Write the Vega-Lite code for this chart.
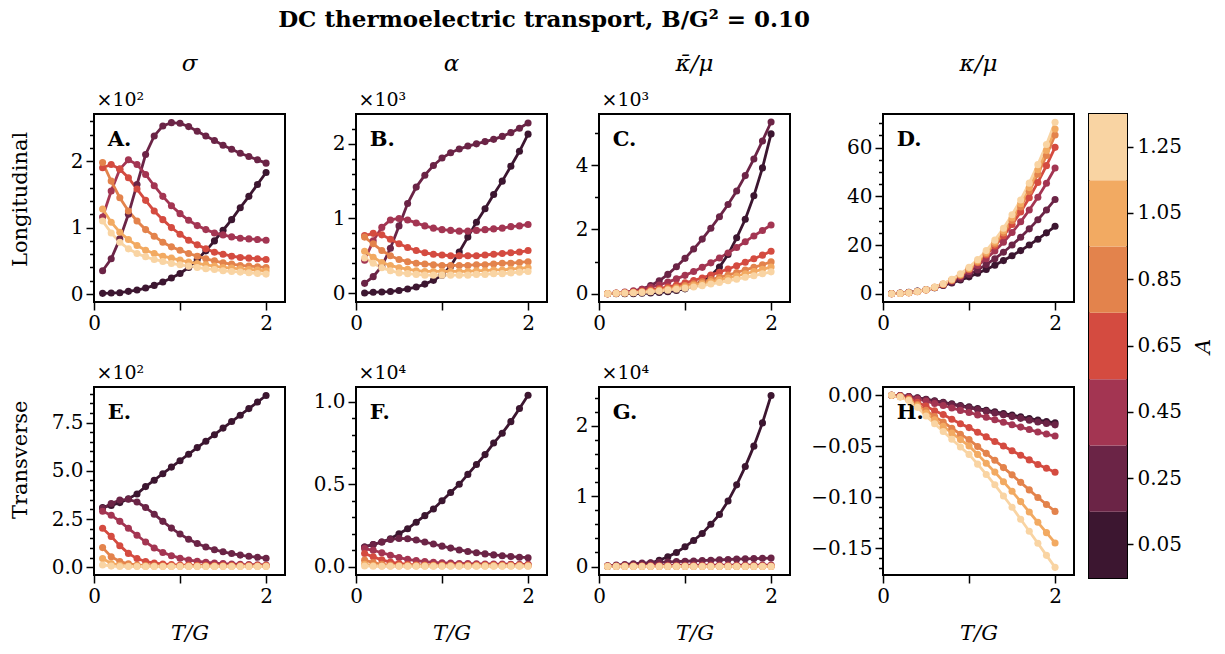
{
"$schema": "https://vega.github.io/schema/vega-lite/v6.json",
"padding": {"left": 10, "top": 9, "right": 5, "bottom": 5},
"title": {"text": "DC thermoelectric transport,  B/G² = 0.10", "font": "DejaVu Serif", "fontSize": 23, "fontWeight": "bold", "anchor": "middle", "dx": -68, "offset": 20, "color": "black"},
"datasets": {
"A": [
{"a":0.05,"t":0.1,"v":0.01},{"a":0.05,"t":0.2,"v":0.015},{"a":0.05,"t":0.3,"v":0.02},{"a":0.05,"t":0.4,"v":0.04},{"a":0.05,"t":0.5,"v":0.06},{"a":0.05,"t":0.6,"v":0.09},{"a":0.05,"t":0.7,"v":0.13},{"a":0.05,"t":0.8,"v":0.18},{"a":0.05,"t":0.9,"v":0.24},{"a":0.05,"t":1,"v":0.31},{"a":0.05,"t":1.1,"v":0.4},{"a":0.05,"t":1.2,"v":0.52},{"a":0.05,"t":1.3,"v":0.65},{"a":0.05,"t":1.4,"v":0.8},{"a":0.05,"t":1.5,"v":0.96},{"a":0.05,"t":1.6,"v":1.12},{"a":0.05,"t":1.7,"v":1.3},{"a":0.05,"t":1.8,"v":1.47},{"a":0.05,"t":1.9,"v":1.65},{"a":0.05,"t":2,"v":1.83},
{"a":0.25,"t":0.1,"v":0.35},{"a":0.25,"t":0.2,"v":0.53},{"a":0.25,"t":0.3,"v":0.83},{"a":0.25,"t":0.4,"v":1.2},{"a":0.25,"t":0.5,"v":1.65},{"a":0.25,"t":0.6,"v":2.1},{"a":0.25,"t":0.7,"v":2.38},{"a":0.25,"t":0.8,"v":2.53},{"a":0.25,"t":0.9,"v":2.58},{"a":0.25,"t":1,"v":2.57},{"a":0.25,"t":1.1,"v":2.52},{"a":0.25,"t":1.2,"v":2.45},{"a":0.25,"t":1.3,"v":2.38},{"a":0.25,"t":1.4,"v":2.31},{"a":0.25,"t":1.5,"v":2.24},{"a":0.25,"t":1.6,"v":2.18},{"a":0.25,"t":1.7,"v":2.12},{"a":0.25,"t":1.8,"v":2.07},{"a":0.25,"t":1.9,"v":2.02},{"a":0.25,"t":2,"v":1.97},
{"a":0.45,"t":0.1,"v":1.16},{"a":0.45,"t":0.2,"v":1.55},{"a":0.45,"t":0.3,"v":1.88},{"a":0.45,"t":0.4,"v":2.02},{"a":0.45,"t":0.5,"v":1.95},{"a":0.45,"t":0.6,"v":1.8},{"a":0.45,"t":0.7,"v":1.63},{"a":0.45,"t":0.8,"v":1.47},{"a":0.45,"t":0.9,"v":1.33},{"a":0.45,"t":1,"v":1.21},{"a":0.45,"t":1.1,"v":1.11},{"a":0.45,"t":1.2,"v":1.03},{"a":0.45,"t":1.3,"v":0.97},{"a":0.45,"t":1.4,"v":0.92},{"a":0.45,"t":1.5,"v":0.89},{"a":0.45,"t":1.6,"v":0.86},{"a":0.45,"t":1.7,"v":0.84},{"a":0.45,"t":1.8,"v":0.83},{"a":0.45,"t":1.9,"v":0.82},{"a":0.45,"t":2,"v":0.81},
{"a":0.65,"t":0.1,"v":1.9},{"a":0.65,"t":0.2,"v":1.95},{"a":0.65,"t":0.3,"v":1.88},{"a":0.65,"t":0.4,"v":1.75},{"a":0.65,"t":0.5,"v":1.58},{"a":0.65,"t":0.6,"v":1.41},{"a":0.65,"t":0.7,"v":1.25},{"a":0.65,"t":0.8,"v":1.12},{"a":0.65,"t":0.9,"v":1.0},{"a":0.65,"t":1,"v":0.9},{"a":0.65,"t":1.1,"v":0.81},{"a":0.65,"t":1.2,"v":0.74},{"a":0.65,"t":1.3,"v":0.68},{"a":0.65,"t":1.4,"v":0.63},{"a":0.65,"t":1.5,"v":0.6},{"a":0.65,"t":1.6,"v":0.57},{"a":0.65,"t":1.7,"v":0.55},{"a":0.65,"t":1.8,"v":0.54},{"a":0.65,"t":1.9,"v":0.53},{"a":0.65,"t":2,"v":0.52},
{"a":0.85,"t":0.1,"v":1.98},{"a":0.85,"t":0.2,"v":1.7},{"a":0.85,"t":0.3,"v":1.45},{"a":0.85,"t":0.4,"v":1.25},{"a":0.85,"t":0.5,"v":1.1},{"a":0.85,"t":0.6,"v":0.97},{"a":0.85,"t":0.7,"v":0.87},{"a":0.85,"t":0.8,"v":0.78},{"a":0.85,"t":0.9,"v":0.71},{"a":0.85,"t":1,"v":0.66},{"a":0.85,"t":1.1,"v":0.61},{"a":0.85,"t":1.2,"v":0.57},{"a":0.85,"t":1.3,"v":0.53},{"a":0.85,"t":1.4,"v":0.5},{"a":0.85,"t":1.5,"v":0.47},{"a":0.85,"t":1.6,"v":0.45},{"a":0.85,"t":1.7,"v":0.43},{"a":0.85,"t":1.8,"v":0.42},{"a":0.85,"t":1.9,"v":0.41},{"a":0.85,"t":2,"v":0.4},
{"a":1.05,"t":0.1,"v":1.28},{"a":1.05,"t":0.2,"v":1.08},{"a":1.05,"t":0.3,"v":0.93},{"a":1.05,"t":0.4,"v":0.82},{"a":1.05,"t":0.5,"v":0.73},{"a":1.05,"t":0.6,"v":0.66},{"a":1.05,"t":0.7,"v":0.61},{"a":1.05,"t":0.8,"v":0.57},{"a":1.05,"t":0.9,"v":0.54},{"a":1.05,"t":1,"v":0.51},{"a":1.05,"t":1.1,"v":0.48},{"a":1.05,"t":1.2,"v":0.46},{"a":1.05,"t":1.3,"v":0.44},{"a":1.05,"t":1.4,"v":0.42},{"a":1.05,"t":1.5,"v":0.4},{"a":1.05,"t":1.6,"v":0.39},{"a":1.05,"t":1.7,"v":0.38},{"a":1.05,"t":1.8,"v":0.37},{"a":1.05,"t":1.9,"v":0.36},{"a":1.05,"t":2,"v":0.35},
{"a":1.25,"t":0.1,"v":1.1},{"a":1.25,"t":0.2,"v":0.92},{"a":1.25,"t":0.3,"v":0.78},{"a":1.25,"t":0.4,"v":0.68},{"a":1.25,"t":0.5,"v":0.61},{"a":1.25,"t":0.6,"v":0.56},{"a":1.25,"t":0.7,"v":0.52},{"a":1.25,"t":0.8,"v":0.49},{"a":1.25,"t":0.9,"v":0.46},{"a":1.25,"t":1,"v":0.44},{"a":1.25,"t":1.1,"v":0.42},{"a":1.25,"t":1.2,"v":0.4},{"a":1.25,"t":1.3,"v":0.38},{"a":1.25,"t":1.4,"v":0.37},{"a":1.25,"t":1.5,"v":0.35},{"a":1.25,"t":1.6,"v":0.34},{"a":1.25,"t":1.7,"v":0.33},{"a":1.25,"t":1.8,"v":0.32},{"a":1.25,"t":1.9,"v":0.31},{"a":1.25,"t":2,"v":0.3}
],
"B": [
{"a":0.05,"t":0.1,"v":0.0},{"a":0.05,"t":0.2,"v":0.01},{"a":0.05,"t":0.3,"v":0.015},{"a":0.05,"t":0.4,"v":0.02},{"a":0.05,"t":0.5,"v":0.035},{"a":0.05,"t":0.6,"v":0.055},{"a":0.05,"t":0.7,"v":0.08},{"a":0.05,"t":0.8,"v":0.12},{"a":0.05,"t":0.9,"v":0.17},{"a":0.05,"t":1,"v":0.24},{"a":0.05,"t":1.1,"v":0.36},{"a":0.05,"t":1.2,"v":0.55},{"a":0.05,"t":1.3,"v":0.75},{"a":0.05,"t":1.4,"v":0.95},{"a":0.05,"t":1.5,"v":1.13},{"a":0.05,"t":1.6,"v":1.32},{"a":0.05,"t":1.7,"v":1.5},{"a":0.05,"t":1.8,"v":1.7},{"a":0.05,"t":1.9,"v":1.9},{"a":0.05,"t":2,"v":2.13},
{"a":0.25,"t":0.1,"v":0.13},{"a":0.25,"t":0.2,"v":0.22},{"a":0.25,"t":0.3,"v":0.36},{"a":0.25,"t":0.4,"v":0.6},{"a":0.25,"t":0.5,"v":0.9},{"a":0.25,"t":0.6,"v":1.2},{"a":0.25,"t":0.7,"v":1.42},{"a":0.25,"t":0.8,"v":1.58},{"a":0.25,"t":0.9,"v":1.71},{"a":0.25,"t":1,"v":1.81},{"a":0.25,"t":1.1,"v":1.88},{"a":0.25,"t":1.2,"v":1.93},{"a":0.25,"t":1.3,"v":1.97},{"a":0.25,"t":1.4,"v":2.0},{"a":0.25,"t":1.5,"v":2.03},{"a":0.25,"t":1.6,"v":2.06},{"a":0.25,"t":1.7,"v":2.1},{"a":0.25,"t":1.8,"v":2.15},{"a":0.25,"t":1.9,"v":2.21},{"a":0.25,"t":2,"v":2.28},
{"a":0.45,"t":0.1,"v":0.44},{"a":0.45,"t":0.2,"v":0.7},{"a":0.45,"t":0.3,"v":0.88},{"a":0.45,"t":0.4,"v":0.98},{"a":0.45,"t":0.5,"v":1.0},{"a":0.45,"t":0.6,"v":0.98},{"a":0.45,"t":0.7,"v":0.94},{"a":0.45,"t":0.8,"v":0.9},{"a":0.45,"t":0.9,"v":0.87},{"a":0.45,"t":1,"v":0.85},{"a":0.45,"t":1.1,"v":0.84},{"a":0.45,"t":1.2,"v":0.83},{"a":0.45,"t":1.3,"v":0.83},{"a":0.45,"t":1.4,"v":0.84},{"a":0.45,"t":1.5,"v":0.85},{"a":0.45,"t":1.6,"v":0.86},{"a":0.45,"t":1.7,"v":0.87},{"a":0.45,"t":1.8,"v":0.89},{"a":0.45,"t":1.9,"v":0.9},{"a":0.45,"t":2,"v":0.92},
{"a":0.65,"t":0.1,"v":0.77},{"a":0.65,"t":0.2,"v":0.8},{"a":0.65,"t":0.3,"v":0.78},{"a":0.65,"t":0.4,"v":0.72},{"a":0.65,"t":0.5,"v":0.66},{"a":0.65,"t":0.6,"v":0.61},{"a":0.65,"t":0.7,"v":0.57},{"a":0.65,"t":0.8,"v":0.54},{"a":0.65,"t":0.9,"v":0.52},{"a":0.65,"t":1,"v":0.51},{"a":0.65,"t":1.1,"v":0.5},{"a":0.65,"t":1.2,"v":0.5},{"a":0.65,"t":1.3,"v":0.5},{"a":0.65,"t":1.4,"v":0.5},{"a":0.65,"t":1.5,"v":0.51},{"a":0.65,"t":1.6,"v":0.52},{"a":0.65,"t":1.7,"v":0.53},{"a":0.65,"t":1.8,"v":0.54},{"a":0.65,"t":1.9,"v":0.55},{"a":0.65,"t":2,"v":0.57},
{"a":0.85,"t":0.1,"v":0.75},{"a":0.85,"t":0.2,"v":0.66},{"a":0.85,"t":0.3,"v":0.57},{"a":0.85,"t":0.4,"v":0.5},{"a":0.85,"t":0.5,"v":0.45},{"a":0.85,"t":0.6,"v":0.42},{"a":0.85,"t":0.7,"v":0.4},{"a":0.85,"t":0.8,"v":0.39},{"a":0.85,"t":0.9,"v":0.38},{"a":0.85,"t":1,"v":0.37},{"a":0.85,"t":1.1,"v":0.37},{"a":0.85,"t":1.2,"v":0.37},{"a":0.85,"t":1.3,"v":0.37},{"a":0.85,"t":1.4,"v":0.38},{"a":0.85,"t":1.5,"v":0.38},{"a":0.85,"t":1.6,"v":0.39},{"a":0.85,"t":1.7,"v":0.4},{"a":0.85,"t":1.8,"v":0.4},{"a":0.85,"t":1.9,"v":0.41},{"a":0.85,"t":2,"v":0.42},
{"a":1.05,"t":0.1,"v":0.56},{"a":1.05,"t":0.2,"v":0.48},{"a":1.05,"t":0.3,"v":0.41},{"a":1.05,"t":0.4,"v":0.37},{"a":1.05,"t":0.5,"v":0.34},{"a":1.05,"t":0.6,"v":0.32},{"a":1.05,"t":0.7,"v":0.3},{"a":1.05,"t":0.8,"v":0.29},{"a":1.05,"t":0.9,"v":0.29},{"a":1.05,"t":1,"v":0.29},{"a":1.05,"t":1.1,"v":0.29},{"a":1.05,"t":1.2,"v":0.29},{"a":1.05,"t":1.3,"v":0.29},{"a":1.05,"t":1.4,"v":0.3},{"a":1.05,"t":1.5,"v":0.3},{"a":1.05,"t":1.6,"v":0.31},{"a":1.05,"t":1.7,"v":0.31},{"a":1.05,"t":1.8,"v":0.32},{"a":1.05,"t":1.9,"v":0.33},{"a":1.05,"t":2,"v":0.34},
{"a":1.25,"t":0.1,"v":0.47},{"a":1.25,"t":0.2,"v":0.4},{"a":1.25,"t":0.3,"v":0.34},{"a":1.25,"t":0.4,"v":0.3},{"a":1.25,"t":0.5,"v":0.27},{"a":1.25,"t":0.6,"v":0.26},{"a":1.25,"t":0.7,"v":0.25},{"a":1.25,"t":0.8,"v":0.24},{"a":1.25,"t":0.9,"v":0.24},{"a":1.25,"t":1,"v":0.24},{"a":1.25,"t":1.1,"v":0.24},{"a":1.25,"t":1.2,"v":0.24},{"a":1.25,"t":1.3,"v":0.24},{"a":1.25,"t":1.4,"v":0.25},{"a":1.25,"t":1.5,"v":0.25},{"a":1.25,"t":1.6,"v":0.26},{"a":1.25,"t":1.7,"v":0.26},{"a":1.25,"t":1.8,"v":0.27},{"a":1.25,"t":1.9,"v":0.28},{"a":1.25,"t":2,"v":0.29}
],
"C": [
{"a":0.05,"t":0.1,"v":0},{"a":0.05,"t":0.2,"v":0},{"a":0.05,"t":0.3,"v":0},{"a":0.05,"t":0.4,"v":0},{"a":0.05,"t":0.5,"v":0.01},{"a":0.05,"t":0.6,"v":0.02},{"a":0.05,"t":0.7,"v":0.04},{"a":0.05,"t":0.8,"v":0.06},{"a":0.05,"t":0.9,"v":0.1},{"a":0.05,"t":1,"v":0.15},{"a":0.05,"t":1.1,"v":0.24},{"a":0.05,"t":1.2,"v":0.38},{"a":0.05,"t":1.3,"v":0.56},{"a":0.05,"t":1.4,"v":0.83},{"a":0.05,"t":1.5,"v":1.22},{"a":0.05,"t":1.6,"v":1.74},{"a":0.05,"t":1.7,"v":2.32},{"a":0.05,"t":1.8,"v":3.05},{"a":0.05,"t":1.9,"v":3.92},{"a":0.05,"t":2,"v":4.98},
{"a":0.25,"t":0.1,"v":0.0},{"a":0.25,"t":0.2,"v":0.01},{"a":0.25,"t":0.3,"v":0.03},{"a":0.25,"t":0.4,"v":0.07},{"a":0.25,"t":0.5,"v":0.14},{"a":0.25,"t":0.6,"v":0.25},{"a":0.25,"t":0.7,"v":0.4},{"a":0.25,"t":0.8,"v":0.6},{"a":0.25,"t":0.9,"v":0.84},{"a":0.25,"t":1,"v":1.1},{"a":0.25,"t":1.1,"v":1.39},{"a":0.25,"t":1.2,"v":1.7},{"a":0.25,"t":1.3,"v":2.04},{"a":0.25,"t":1.4,"v":2.4},{"a":0.25,"t":1.5,"v":2.78},{"a":0.25,"t":1.6,"v":3.2},{"a":0.25,"t":1.7,"v":3.68},{"a":0.25,"t":1.8,"v":4.2},{"a":0.25,"t":1.9,"v":4.76},{"a":0.25,"t":2,"v":5.35},
{"a":0.45,"t":0.1,"v":0.0},{"a":0.45,"t":0.2,"v":0.02},{"a":0.45,"t":0.3,"v":0.05},{"a":0.45,"t":0.4,"v":0.09},{"a":0.45,"t":0.5,"v":0.14},{"a":0.45,"t":0.6,"v":0.2},{"a":0.45,"t":0.7,"v":0.27},{"a":0.45,"t":0.8,"v":0.36},{"a":0.45,"t":0.9,"v":0.46},{"a":0.45,"t":1,"v":0.57},{"a":0.45,"t":1.1,"v":0.69},{"a":0.45,"t":1.2,"v":0.82},{"a":0.45,"t":1.3,"v":0.96},{"a":0.45,"t":1.4,"v":1.11},{"a":0.45,"t":1.5,"v":1.27},{"a":0.45,"t":1.6,"v":1.44},{"a":0.45,"t":1.7,"v":1.62},{"a":0.45,"t":1.8,"v":1.8},{"a":0.45,"t":1.9,"v":1.97},{"a":0.45,"t":2,"v":2.14},
{"a":0.65,"t":0.1,"v":0.0},{"a":0.65,"t":0.2,"v":0.01},{"a":0.65,"t":0.3,"v":0.03},{"a":0.65,"t":0.4,"v":0.05},{"a":0.65,"t":0.5,"v":0.08},{"a":0.65,"t":0.6,"v":0.12},{"a":0.65,"t":0.7,"v":0.16},{"a":0.65,"t":0.8,"v":0.21},{"a":0.65,"t":0.9,"v":0.27},{"a":0.65,"t":1,"v":0.34},{"a":0.65,"t":1.1,"v":0.41},{"a":0.65,"t":1.2,"v":0.49},{"a":0.65,"t":1.3,"v":0.58},{"a":0.65,"t":1.4,"v":0.67},{"a":0.65,"t":1.5,"v":0.77},{"a":0.65,"t":1.6,"v":0.87},{"a":0.65,"t":1.7,"v":0.98},{"a":0.65,"t":1.8,"v":1.09},{"a":0.65,"t":1.9,"v":1.2},{"a":0.65,"t":2,"v":1.32},
{"a":0.85,"t":0.1,"v":0.0},{"a":0.85,"t":0.2,"v":0.01},{"a":0.85,"t":0.3,"v":0.02},{"a":0.85,"t":0.4,"v":0.04},{"a":0.85,"t":0.5,"v":0.06},{"a":0.85,"t":0.6,"v":0.09},{"a":0.85,"t":0.7,"v":0.12},{"a":0.85,"t":0.8,"v":0.16},{"a":0.85,"t":0.9,"v":0.2},{"a":0.85,"t":1,"v":0.25},{"a":0.85,"t":1.1,"v":0.31},{"a":0.85,"t":1.2,"v":0.37},{"a":0.85,"t":1.3,"v":0.44},{"a":0.85,"t":1.4,"v":0.51},{"a":0.85,"t":1.5,"v":0.58},{"a":0.85,"t":1.6,"v":0.66},{"a":0.85,"t":1.7,"v":0.74},{"a":0.85,"t":1.8,"v":0.82},{"a":0.85,"t":1.9,"v":0.9},{"a":0.85,"t":2,"v":0.99},
{"a":1.05,"t":0.1,"v":0.0},{"a":1.05,"t":0.2,"v":0.01},{"a":1.05,"t":0.3,"v":0.02},{"a":1.05,"t":0.4,"v":0.03},{"a":1.05,"t":0.5,"v":0.05},{"a":1.05,"t":0.6,"v":0.07},{"a":1.05,"t":0.7,"v":0.1},{"a":1.05,"t":0.8,"v":0.13},{"a":1.05,"t":0.9,"v":0.17},{"a":1.05,"t":1,"v":0.21},{"a":1.05,"t":1.1,"v":0.26},{"a":1.05,"t":1.2,"v":0.31},{"a":1.05,"t":1.3,"v":0.37},{"a":1.05,"t":1.4,"v":0.43},{"a":1.05,"t":1.5,"v":0.49},{"a":1.05,"t":1.6,"v":0.55},{"a":1.05,"t":1.7,"v":0.62},{"a":1.05,"t":1.8,"v":0.69},{"a":1.05,"t":1.9,"v":0.76},{"a":1.05,"t":2,"v":0.83},
{"a":1.25,"t":0.1,"v":0.0},{"a":1.25,"t":0.2,"v":0.01},{"a":1.25,"t":0.3,"v":0.02},{"a":1.25,"t":0.4,"v":0.03},{"a":1.25,"t":0.5,"v":0.04},{"a":1.25,"t":0.6,"v":0.06},{"a":1.25,"t":0.7,"v":0.08},{"a":1.25,"t":0.8,"v":0.11},{"a":1.25,"t":0.9,"v":0.14},{"a":1.25,"t":1,"v":0.17},{"a":1.25,"t":1.1,"v":0.21},{"a":1.25,"t":1.2,"v":0.25},{"a":1.25,"t":1.3,"v":0.3},{"a":1.25,"t":1.4,"v":0.35},{"a":1.25,"t":1.5,"v":0.4},{"a":1.25,"t":1.6,"v":0.45},{"a":1.25,"t":1.7,"v":0.51},{"a":1.25,"t":1.8,"v":0.56},{"a":1.25,"t":1.9,"v":0.62},{"a":1.25,"t":2,"v":0.68}
],
"D": [
{"a":0.05,"t":0.1,"v":0.07},{"a":0.05,"t":0.2,"v":0.28},{"a":0.05,"t":0.3,"v":0.62},{"a":0.05,"t":0.4,"v":1.11},{"a":0.05,"t":0.5,"v":1.73},{"a":0.05,"t":0.6,"v":2.49},{"a":0.05,"t":0.7,"v":3.4},{"a":0.05,"t":0.8,"v":4.43},{"a":0.05,"t":0.9,"v":5.61},{"a":0.05,"t":1,"v":6.93},{"a":0.05,"t":1.1,"v":8.38},{"a":0.05,"t":1.2,"v":9.98},{"a":0.05,"t":1.3,"v":11.7},{"a":0.05,"t":1.4,"v":13.6},{"a":0.05,"t":1.5,"v":15.6},{"a":0.05,"t":1.6,"v":17.7},{"a":0.05,"t":1.7,"v":20.0},{"a":0.05,"t":1.8,"v":22.4},{"a":0.05,"t":1.9,"v":25.0},{"a":0.05,"t":2,"v":27.7},
{"a":0.25,"t":0.1,"v":0.04},{"a":0.25,"t":0.2,"v":0.19},{"a":0.25,"t":0.3,"v":0.49},{"a":0.25,"t":0.4,"v":0.96},{"a":0.25,"t":0.5,"v":1.6},{"a":0.25,"t":0.6,"v":2.43},{"a":0.25,"t":0.7,"v":3.46},{"a":0.25,"t":0.8,"v":4.71},{"a":0.25,"t":0.9,"v":6.17},{"a":0.25,"t":1,"v":7.86},{"a":0.25,"t":1.1,"v":9.79},{"a":0.25,"t":1.2,"v":11.96},{"a":0.25,"t":1.3,"v":14.37},{"a":0.25,"t":1.4,"v":17.04},{"a":0.25,"t":1.5,"v":19.98},{"a":0.25,"t":1.6,"v":23.17},{"a":0.25,"t":1.7,"v":26.63},{"a":0.25,"t":1.8,"v":30.38},{"a":0.25,"t":1.9,"v":34.4},{"a":0.25,"t":2,"v":38.7},
{"a":0.45,"t":0.1,"v":0.03},{"a":0.45,"t":0.2,"v":0.16},{"a":0.45,"t":0.3,"v":0.45},{"a":0.45,"t":0.4,"v":0.92},{"a":0.45,"t":0.5,"v":1.61},{"a":0.45,"t":0.6,"v":2.54},{"a":0.45,"t":0.7,"v":3.74},{"a":0.45,"t":0.8,"v":5.22},{"a":0.45,"t":0.9,"v":7.01},{"a":0.45,"t":1,"v":9.12},{"a":0.45,"t":1.1,"v":11.57},{"a":0.45,"t":1.2,"v":14.38},{"a":0.45,"t":1.3,"v":17.57},{"a":0.45,"t":1.4,"v":21.15},{"a":0.45,"t":1.5,"v":25.13},{"a":0.45,"t":1.6,"v":29.53},{"a":0.45,"t":1.7,"v":34.36},{"a":0.45,"t":1.8,"v":39.64},{"a":0.45,"t":1.9,"v":45.38},{"a":0.45,"t":2,"v":51.6},
{"a":0.65,"t":0.1,"v":0.02},{"a":0.65,"t":0.2,"v":0.15},{"a":0.65,"t":0.3,"v":0.43},{"a":0.65,"t":0.4,"v":0.91},{"a":0.65,"t":0.5,"v":1.64},{"a":0.65,"t":0.6,"v":2.63},{"a":0.65,"t":0.7,"v":3.92},{"a":0.65,"t":0.8,"v":5.55},{"a":0.65,"t":0.9,"v":7.54},{"a":0.65,"t":1,"v":9.91},{"a":0.65,"t":1.1,"v":12.7},{"a":0.65,"t":1.2,"v":15.9},{"a":0.65,"t":1.3,"v":19.6},{"a":0.65,"t":1.4,"v":23.8},{"a":0.65,"t":1.5,"v":28.4},{"a":0.65,"t":1.6,"v":33.6},{"a":0.65,"t":1.7,"v":39.4},{"a":0.65,"t":1.8,"v":45.7},{"a":0.65,"t":1.9,"v":52.6},{"a":0.65,"t":2,"v":60.1},
{"a":0.85,"t":0.1,"v":0.02},{"a":0.85,"t":0.2,"v":0.13},{"a":0.85,"t":0.3,"v":0.39},{"a":0.85,"t":0.4,"v":0.84},{"a":0.85,"t":0.5,"v":1.54},{"a":0.85,"t":0.6,"v":2.53},{"a":0.85,"t":0.7,"v":3.82},{"a":0.85,"t":0.8,"v":5.49},{"a":0.85,"t":0.9,"v":7.55},{"a":0.85,"t":1,"v":10.03},{"a":0.85,"t":1.1,"v":12.96},{"a":0.85,"t":1.2,"v":16.39},{"a":0.85,"t":1.3,"v":20.37},{"a":0.85,"t":1.4,"v":24.91},{"a":0.85,"t":1.5,"v":30.0},{"a":0.85,"t":1.6,"v":35.65},{"a":0.85,"t":1.7,"v":42.04},{"a":0.85,"t":1.8,"v":49.08},{"a":0.85,"t":1.9,"v":56.76},{"a":0.85,"t":2,"v":65.2},
{"a":1.05,"t":0.1,"v":0.02},{"a":1.05,"t":0.2,"v":0.13},{"a":1.05,"t":0.3,"v":0.4},{"a":1.05,"t":0.4,"v":0.87},{"a":1.05,"t":0.5,"v":1.59},{"a":1.05,"t":0.6,"v":2.62},{"a":1.05,"t":0.7,"v":3.96},{"a":1.05,"t":0.8,"v":5.69},{"a":1.05,"t":0.9,"v":7.82},{"a":1.05,"t":1,"v":10.4},{"a":1.05,"t":1.1,"v":13.44},{"a":1.05,"t":1.2,"v":16.99},{"a":1.05,"t":1.3,"v":21.12},{"a":1.05,"t":1.4,"v":25.82},{"a":1.05,"t":1.5,"v":31.1},{"a":1.05,"t":1.6,"v":36.96},{"a":1.05,"t":1.7,"v":43.58},{"a":1.05,"t":1.8,"v":50.88},{"a":1.05,"t":1.9,"v":58.85},{"a":1.05,"t":2,"v":67.6},
{"a":1.25,"t":0.1,"v":0.02},{"a":1.25,"t":0.2,"v":0.14},{"a":1.25,"t":0.3,"v":0.42},{"a":1.25,"t":0.4,"v":0.91},{"a":1.25,"t":0.5,"v":1.66},{"a":1.25,"t":0.6,"v":2.73},{"a":1.25,"t":0.7,"v":4.13},{"a":1.25,"t":0.8,"v":5.93},{"a":1.25,"t":0.9,"v":8.15},{"a":1.25,"t":1,"v":10.83},{"a":1.25,"t":1.1,"v":14.0},{"a":1.25,"t":1.2,"v":17.7},{"a":1.25,"t":1.3,"v":22.0},{"a":1.25,"t":1.4,"v":26.9},{"a":1.25,"t":1.5,"v":32.4},{"a":1.25,"t":1.6,"v":38.5},{"a":1.25,"t":1.7,"v":45.4},{"a":1.25,"t":1.8,"v":53.0},{"a":1.25,"t":1.9,"v":61.3},{"a":1.25,"t":2,"v":70.4}
],
"E": [
{"a":0.05,"t":0.1,"v":3.1},{"a":0.05,"t":0.2,"v":3.2},{"a":0.05,"t":0.3,"v":3.35},{"a":0.05,"t":0.4,"v":3.55},{"a":0.05,"t":0.5,"v":3.8},{"a":0.05,"t":0.6,"v":4.18},{"a":0.05,"t":0.7,"v":4.51},{"a":0.05,"t":0.8,"v":4.85},{"a":0.05,"t":0.9,"v":5.19},{"a":0.05,"t":1,"v":5.52},{"a":0.05,"t":1.1,"v":5.86},{"a":0.05,"t":1.2,"v":6.2},{"a":0.05,"t":1.3,"v":6.53},{"a":0.05,"t":1.4,"v":6.87},{"a":0.05,"t":1.5,"v":7.21},{"a":0.05,"t":1.6,"v":7.55},{"a":0.05,"t":1.7,"v":7.88},{"a":0.05,"t":1.8,"v":8.22},{"a":0.05,"t":1.9,"v":8.56},{"a":0.05,"t":2,"v":8.9},
{"a":0.25,"t":0.1,"v":3.05},{"a":0.25,"t":0.2,"v":3.3},{"a":0.25,"t":0.3,"v":3.48},{"a":0.25,"t":0.4,"v":3.52},{"a":0.25,"t":0.5,"v":3.38},{"a":0.25,"t":0.6,"v":3.1},{"a":0.25,"t":0.7,"v":2.75},{"a":0.25,"t":0.8,"v":2.38},{"a":0.25,"t":0.9,"v":2.03},{"a":0.25,"t":1,"v":1.72},{"a":0.25,"t":1.1,"v":1.45},{"a":0.25,"t":1.2,"v":1.23},{"a":0.25,"t":1.3,"v":1.05},{"a":0.25,"t":1.4,"v":0.91},{"a":0.25,"t":1.5,"v":0.8},{"a":0.25,"t":1.6,"v":0.71},{"a":0.25,"t":1.7,"v":0.63},{"a":0.25,"t":1.8,"v":0.57},{"a":0.25,"t":1.9,"v":0.52},{"a":0.25,"t":2,"v":0.47},
{"a":0.45,"t":0.1,"v":2.9},{"a":0.45,"t":0.2,"v":2.7},{"a":0.45,"t":0.3,"v":2.38},{"a":0.45,"t":0.4,"v":2.02},{"a":0.45,"t":0.5,"v":1.66},{"a":0.45,"t":0.6,"v":1.31},{"a":0.45,"t":0.7,"v":1.0},{"a":0.45,"t":0.8,"v":0.77},{"a":0.45,"t":0.9,"v":0.6},{"a":0.45,"t":1,"v":0.47},{"a":0.45,"t":1.1,"v":0.38},{"a":0.45,"t":1.2,"v":0.31},{"a":0.45,"t":1.3,"v":0.26},{"a":0.45,"t":1.4,"v":0.22},{"a":0.45,"t":1.5,"v":0.19},{"a":0.45,"t":1.6,"v":0.17},{"a":0.45,"t":1.7,"v":0.15},{"a":0.45,"t":1.8,"v":0.14},{"a":0.45,"t":1.9,"v":0.13},{"a":0.45,"t":2,"v":0.12},
{"a":0.65,"t":0.1,"v":2.02},{"a":0.65,"t":0.2,"v":1.6},{"a":0.65,"t":0.3,"v":1.12},{"a":0.65,"t":0.4,"v":0.72},{"a":0.65,"t":0.5,"v":0.45},{"a":0.65,"t":0.6,"v":0.3},{"a":0.65,"t":0.7,"v":0.22},{"a":0.65,"t":0.8,"v":0.17},{"a":0.65,"t":0.9,"v":0.14},{"a":0.65,"t":1,"v":0.12},{"a":0.65,"t":1.1,"v":0.11},{"a":0.65,"t":1.2,"v":0.1},{"a":0.65,"t":1.3,"v":0.1},{"a":0.65,"t":1.4,"v":0.09},{"a":0.65,"t":1.5,"v":0.09},{"a":0.65,"t":1.6,"v":0.09},{"a":0.65,"t":1.7,"v":0.09},{"a":0.65,"t":1.8,"v":0.09},{"a":0.65,"t":1.9,"v":0.09},{"a":0.65,"t":2,"v":0.09},
{"a":0.85,"t":0.1,"v":1.02},{"a":0.85,"t":0.2,"v":0.55},{"a":0.85,"t":0.3,"v":0.3},{"a":0.85,"t":0.4,"v":0.18},{"a":0.85,"t":0.5,"v":0.12},{"a":0.85,"t":0.6,"v":0.09},{"a":0.85,"t":0.7,"v":0.08},{"a":0.85,"t":0.8,"v":0.07},{"a":0.85,"t":0.9,"v":0.07},{"a":0.85,"t":1,"v":0.07},{"a":0.85,"t":1.1,"v":0.07},{"a":0.85,"t":1.2,"v":0.07},{"a":0.85,"t":1.3,"v":0.07},{"a":0.85,"t":1.4,"v":0.07},{"a":0.85,"t":1.5,"v":0.07},{"a":0.85,"t":1.6,"v":0.07},{"a":0.85,"t":1.7,"v":0.07},{"a":0.85,"t":1.8,"v":0.07},{"a":0.85,"t":1.9,"v":0.07},{"a":0.85,"t":2,"v":0.07},
{"a":1.05,"t":0.1,"v":0.45},{"a":1.05,"t":0.2,"v":0.2},{"a":1.05,"t":0.3,"v":0.1},{"a":1.05,"t":0.4,"v":0.07},{"a":1.05,"t":0.5,"v":0.06},{"a":1.05,"t":0.6,"v":0.05},{"a":1.05,"t":0.7,"v":0.05},{"a":1.05,"t":0.8,"v":0.05},{"a":1.05,"t":0.9,"v":0.05},{"a":1.05,"t":1,"v":0.05},{"a":1.05,"t":1.1,"v":0.05},{"a":1.05,"t":1.2,"v":0.05},{"a":1.05,"t":1.3,"v":0.05},{"a":1.05,"t":1.4,"v":0.05},{"a":1.05,"t":1.5,"v":0.05},{"a":1.05,"t":1.6,"v":0.05},{"a":1.05,"t":1.7,"v":0.05},{"a":1.05,"t":1.8,"v":0.05},{"a":1.05,"t":1.9,"v":0.05},{"a":1.05,"t":2,"v":0.05},
{"a":1.25,"t":0.1,"v":0.12},{"a":1.25,"t":0.2,"v":0.06},{"a":1.25,"t":0.3,"v":0.04},{"a":1.25,"t":0.4,"v":0.04},{"a":1.25,"t":0.5,"v":0.04},{"a":1.25,"t":0.6,"v":0.04},{"a":1.25,"t":0.7,"v":0.04},{"a":1.25,"t":0.8,"v":0.04},{"a":1.25,"t":0.9,"v":0.04},{"a":1.25,"t":1,"v":0.04},{"a":1.25,"t":1.1,"v":0.04},{"a":1.25,"t":1.2,"v":0.04},{"a":1.25,"t":1.3,"v":0.04},{"a":1.25,"t":1.4,"v":0.04},{"a":1.25,"t":1.5,"v":0.04},{"a":1.25,"t":1.6,"v":0.04},{"a":1.25,"t":1.7,"v":0.04},{"a":1.25,"t":1.8,"v":0.04},{"a":1.25,"t":1.9,"v":0.04},{"a":1.25,"t":2,"v":0.04}
],
"F": [
{"a":0.05,"t":0.1,"v":0.12},{"a":0.05,"t":0.2,"v":0.135},{"a":0.05,"t":0.3,"v":0.15},{"a":0.05,"t":0.4,"v":0.17},{"a":0.05,"t":0.5,"v":0.2},{"a":0.05,"t":0.6,"v":0.23},{"a":0.05,"t":0.7,"v":0.27},{"a":0.05,"t":0.8,"v":0.31},{"a":0.05,"t":0.9,"v":0.35},{"a":0.05,"t":1,"v":0.4},{"a":0.05,"t":1.1,"v":0.45},{"a":0.05,"t":1.2,"v":0.5},{"a":0.05,"t":1.3,"v":0.56},{"a":0.05,"t":1.4,"v":0.62},{"a":0.05,"t":1.5,"v":0.68},{"a":0.05,"t":1.6,"v":0.75},{"a":0.05,"t":1.7,"v":0.81},{"a":0.05,"t":1.8,"v":0.88},{"a":0.05,"t":1.9,"v":0.96},{"a":0.05,"t":2,"v":1.04},
{"a":0.25,"t":0.1,"v":0.12},{"a":0.25,"t":0.2,"v":0.135},{"a":0.25,"t":0.3,"v":0.15},{"a":0.25,"t":0.4,"v":0.165},{"a":0.25,"t":0.5,"v":0.172},{"a":0.25,"t":0.6,"v":0.17},{"a":0.25,"t":0.7,"v":0.162},{"a":0.25,"t":0.8,"v":0.15},{"a":0.25,"t":0.9,"v":0.138},{"a":0.25,"t":1,"v":0.125},{"a":0.25,"t":1.1,"v":0.113},{"a":0.25,"t":1.2,"v":0.102},{"a":0.25,"t":1.3,"v":0.093},{"a":0.25,"t":1.4,"v":0.085},{"a":0.25,"t":1.5,"v":0.078},{"a":0.25,"t":1.6,"v":0.072},{"a":0.25,"t":1.7,"v":0.067},{"a":0.25,"t":1.8,"v":0.062},{"a":0.25,"t":1.9,"v":0.058},{"a":0.25,"t":2,"v":0.055},
{"a":0.45,"t":0.1,"v":0.11},{"a":0.45,"t":0.2,"v":0.1},{"a":0.45,"t":0.3,"v":0.085},{"a":0.45,"t":0.4,"v":0.07},{"a":0.45,"t":0.5,"v":0.056},{"a":0.45,"t":0.6,"v":0.045},{"a":0.45,"t":0.7,"v":0.037},{"a":0.45,"t":0.8,"v":0.031},{"a":0.45,"t":0.9,"v":0.027},{"a":0.45,"t":1,"v":0.024},{"a":0.45,"t":1.1,"v":0.022},{"a":0.45,"t":1.2,"v":0.02},{"a":0.45,"t":1.3,"v":0.019},{"a":0.45,"t":1.4,"v":0.018},{"a":0.45,"t":1.5,"v":0.017},{"a":0.45,"t":1.6,"v":0.016},{"a":0.45,"t":1.7,"v":0.016},{"a":0.45,"t":1.8,"v":0.015},{"a":0.45,"t":1.9,"v":0.015},{"a":0.45,"t":2,"v":0.015},
{"a":0.65,"t":0.1,"v":0.08},{"a":0.65,"t":0.2,"v":0.06},{"a":0.65,"t":0.3,"v":0.042},{"a":0.65,"t":0.4,"v":0.028},{"a":0.65,"t":0.5,"v":0.02},{"a":0.65,"t":0.6,"v":0.015},{"a":0.65,"t":0.7,"v":0.012},{"a":0.65,"t":0.8,"v":0.01},{"a":0.65,"t":0.9,"v":0.01},{"a":0.65,"t":1,"v":0.01},{"a":0.65,"t":1.1,"v":0.01},{"a":0.65,"t":1.2,"v":0.01},{"a":0.65,"t":1.3,"v":0.01},{"a":0.65,"t":1.4,"v":0.01},{"a":0.65,"t":1.5,"v":0.01},{"a":0.65,"t":1.6,"v":0.01},{"a":0.65,"t":1.7,"v":0.01},{"a":0.65,"t":1.8,"v":0.01},{"a":0.65,"t":1.9,"v":0.01},{"a":0.65,"t":2,"v":0.01},
{"a":0.85,"t":0.1,"v":0.04},{"a":0.85,"t":0.2,"v":0.025},{"a":0.85,"t":0.3,"v":0.015},{"a":0.85,"t":0.4,"v":0.01},{"a":0.85,"t":0.5,"v":0.008},{"a":0.85,"t":0.6,"v":0.008},{"a":0.85,"t":0.7,"v":0.008},{"a":0.85,"t":0.8,"v":0.008},{"a":0.85,"t":0.9,"v":0.008},{"a":0.85,"t":1,"v":0.008},{"a":0.85,"t":1.1,"v":0.008},{"a":0.85,"t":1.2,"v":0.008},{"a":0.85,"t":1.3,"v":0.008},{"a":0.85,"t":1.4,"v":0.008},{"a":0.85,"t":1.5,"v":0.008},{"a":0.85,"t":1.6,"v":0.008},{"a":0.85,"t":1.7,"v":0.008},{"a":0.85,"t":1.8,"v":0.008},{"a":0.85,"t":1.9,"v":0.008},{"a":0.85,"t":2,"v":0.008},
{"a":1.05,"t":0.1,"v":0.015},{"a":1.05,"t":0.2,"v":0.008},{"a":1.05,"t":0.3,"v":0.005},{"a":1.05,"t":0.4,"v":0.005},{"a":1.05,"t":0.5,"v":0.005},{"a":1.05,"t":0.6,"v":0.005},{"a":1.05,"t":0.7,"v":0.005},{"a":1.05,"t":0.8,"v":0.005},{"a":1.05,"t":0.9,"v":0.005},{"a":1.05,"t":1,"v":0.005},{"a":1.05,"t":1.1,"v":0.005},{"a":1.05,"t":1.2,"v":0.005},{"a":1.05,"t":1.3,"v":0.005},{"a":1.05,"t":1.4,"v":0.005},{"a":1.05,"t":1.5,"v":0.005},{"a":1.05,"t":1.6,"v":0.005},{"a":1.05,"t":1.7,"v":0.005},{"a":1.05,"t":1.8,"v":0.005},{"a":1.05,"t":1.9,"v":0.005},{"a":1.05,"t":2,"v":0.005},
{"a":1.25,"t":0.1,"v":0.005},{"a":1.25,"t":0.2,"v":0.003},{"a":1.25,"t":0.3,"v":0.003},{"a":1.25,"t":0.4,"v":0.003},{"a":1.25,"t":0.5,"v":0.003},{"a":1.25,"t":0.6,"v":0.003},{"a":1.25,"t":0.7,"v":0.003},{"a":1.25,"t":0.8,"v":0.003},{"a":1.25,"t":0.9,"v":0.003},{"a":1.25,"t":1,"v":0.003},{"a":1.25,"t":1.1,"v":0.003},{"a":1.25,"t":1.2,"v":0.003},{"a":1.25,"t":1.3,"v":0.003},{"a":1.25,"t":1.4,"v":0.003},{"a":1.25,"t":1.5,"v":0.003},{"a":1.25,"t":1.6,"v":0.003},{"a":1.25,"t":1.7,"v":0.003},{"a":1.25,"t":1.8,"v":0.003},{"a":1.25,"t":1.9,"v":0.003},{"a":1.25,"t":2,"v":0.003}
],
"G": [
{"a":0.05,"t":0.1,"v":0.0},{"a":0.05,"t":0.2,"v":0.003},{"a":0.05,"t":0.3,"v":0.007},{"a":0.05,"t":0.4,"v":0.015},{"a":0.05,"t":0.5,"v":0.03},{"a":0.05,"t":0.6,"v":0.05},{"a":0.05,"t":0.7,"v":0.09},{"a":0.05,"t":0.8,"v":0.14},{"a":0.05,"t":0.9,"v":0.2},{"a":0.05,"t":1,"v":0.28},{"a":0.05,"t":1.1,"v":0.37},{"a":0.05,"t":1.2,"v":0.47},{"a":0.05,"t":1.3,"v":0.6},{"a":0.05,"t":1.4,"v":0.74},{"a":0.05,"t":1.5,"v":0.93},{"a":0.05,"t":1.6,"v":1.16},{"a":0.05,"t":1.7,"v":1.42},{"a":0.05,"t":1.8,"v":1.71},{"a":0.05,"t":1.9,"v":2.04},{"a":0.05,"t":2,"v":2.43},
{"a":0.25,"t":0.1,"v":0.01},{"a":0.25,"t":0.2,"v":0.02},{"a":0.25,"t":0.3,"v":0.03},{"a":0.25,"t":0.4,"v":0.04},{"a":0.25,"t":0.5,"v":0.05},{"a":0.25,"t":0.6,"v":0.055},{"a":0.25,"t":0.7,"v":0.06},{"a":0.25,"t":0.8,"v":0.065},{"a":0.25,"t":0.9,"v":0.07},{"a":0.25,"t":1,"v":0.075},{"a":0.25,"t":1.1,"v":0.08},{"a":0.25,"t":1.2,"v":0.085},{"a":0.25,"t":1.3,"v":0.09},{"a":0.25,"t":1.4,"v":0.095},{"a":0.25,"t":1.5,"v":0.1},{"a":0.25,"t":1.6,"v":0.105},{"a":0.25,"t":1.7,"v":0.11},{"a":0.25,"t":1.8,"v":0.113},{"a":0.25,"t":1.9,"v":0.117},{"a":0.25,"t":2,"v":0.12},
{"a":0.45,"t":0.1,"v":0.01},{"a":0.45,"t":0.2,"v":0.012},{"a":0.45,"t":0.3,"v":0.014},{"a":0.45,"t":0.4,"v":0.015},{"a":0.45,"t":0.5,"v":0.016},{"a":0.45,"t":0.6,"v":0.017},{"a":0.45,"t":0.7,"v":0.018},{"a":0.45,"t":0.8,"v":0.018},{"a":0.45,"t":0.9,"v":0.019},{"a":0.45,"t":1,"v":0.019},{"a":0.45,"t":1.1,"v":0.02},{"a":0.45,"t":1.2,"v":0.02},{"a":0.45,"t":1.3,"v":0.02},{"a":0.45,"t":1.4,"v":0.02},{"a":0.45,"t":1.5,"v":0.02},{"a":0.45,"t":1.6,"v":0.02},{"a":0.45,"t":1.7,"v":0.02},{"a":0.45,"t":1.8,"v":0.02},{"a":0.45,"t":1.9,"v":0.02},{"a":0.45,"t":2,"v":0.02},
{"a":0.65,"t":0.1,"v":0.005},{"a":0.65,"t":0.2,"v":0.005},{"a":0.65,"t":0.3,"v":0.005},{"a":0.65,"t":0.4,"v":0.005},{"a":0.65,"t":0.5,"v":0.005},{"a":0.65,"t":0.6,"v":0.005},{"a":0.65,"t":0.7,"v":0.005},{"a":0.65,"t":0.8,"v":0.005},{"a":0.65,"t":0.9,"v":0.005},{"a":0.65,"t":1,"v":0.005},{"a":0.65,"t":1.1,"v":0.005},{"a":0.65,"t":1.2,"v":0.005},{"a":0.65,"t":1.3,"v":0.005},{"a":0.65,"t":1.4,"v":0.005},{"a":0.65,"t":1.5,"v":0.005},{"a":0.65,"t":1.6,"v":0.005},{"a":0.65,"t":1.7,"v":0.005},{"a":0.65,"t":1.8,"v":0.005},{"a":0.65,"t":1.9,"v":0.005},{"a":0.65,"t":2,"v":0.005},
{"a":0.85,"t":0.1,"v":0.003},{"a":0.85,"t":0.2,"v":0.003},{"a":0.85,"t":0.3,"v":0.003},{"a":0.85,"t":0.4,"v":0.003},{"a":0.85,"t":0.5,"v":0.003},{"a":0.85,"t":0.6,"v":0.003},{"a":0.85,"t":0.7,"v":0.003},{"a":0.85,"t":0.8,"v":0.003},{"a":0.85,"t":0.9,"v":0.003},{"a":0.85,"t":1,"v":0.003},{"a":0.85,"t":1.1,"v":0.003},{"a":0.85,"t":1.2,"v":0.003},{"a":0.85,"t":1.3,"v":0.003},{"a":0.85,"t":1.4,"v":0.003},{"a":0.85,"t":1.5,"v":0.003},{"a":0.85,"t":1.6,"v":0.003},{"a":0.85,"t":1.7,"v":0.003},{"a":0.85,"t":1.8,"v":0.003},{"a":0.85,"t":1.9,"v":0.003},{"a":0.85,"t":2,"v":0.003},
{"a":1.05,"t":0.1,"v":0.002},{"a":1.05,"t":0.2,"v":0.002},{"a":1.05,"t":0.3,"v":0.002},{"a":1.05,"t":0.4,"v":0.002},{"a":1.05,"t":0.5,"v":0.002},{"a":1.05,"t":0.6,"v":0.002},{"a":1.05,"t":0.7,"v":0.002},{"a":1.05,"t":0.8,"v":0.002},{"a":1.05,"t":0.9,"v":0.002},{"a":1.05,"t":1,"v":0.002},{"a":1.05,"t":1.1,"v":0.002},{"a":1.05,"t":1.2,"v":0.002},{"a":1.05,"t":1.3,"v":0.002},{"a":1.05,"t":1.4,"v":0.002},{"a":1.05,"t":1.5,"v":0.002},{"a":1.05,"t":1.6,"v":0.002},{"a":1.05,"t":1.7,"v":0.002},{"a":1.05,"t":1.8,"v":0.002},{"a":1.05,"t":1.9,"v":0.002},{"a":1.05,"t":2,"v":0.002},
{"a":1.25,"t":0.1,"v":0.001},{"a":1.25,"t":0.2,"v":0.001},{"a":1.25,"t":0.3,"v":0.001},{"a":1.25,"t":0.4,"v":0.001},{"a":1.25,"t":0.5,"v":0.001},{"a":1.25,"t":0.6,"v":0.001},{"a":1.25,"t":0.7,"v":0.001},{"a":1.25,"t":0.8,"v":0.001},{"a":1.25,"t":0.9,"v":0.001},{"a":1.25,"t":1,"v":0.001},{"a":1.25,"t":1.1,"v":0.001},{"a":1.25,"t":1.2,"v":0.001},{"a":1.25,"t":1.3,"v":0.001},{"a":1.25,"t":1.4,"v":0.001},{"a":1.25,"t":1.5,"v":0.001},{"a":1.25,"t":1.6,"v":0.001},{"a":1.25,"t":1.7,"v":0.001},{"a":1.25,"t":1.8,"v":0.001},{"a":1.25,"t":1.9,"v":0.001},{"a":1.25,"t":2,"v":0.001}
],
"H": [
{"a":0.05,"t":0.1,"v":0},{"a":0.05,"t":0.2,"v":-0.0003},{"a":0.05,"t":0.3,"v":-0.0011},{"a":0.05,"t":0.4,"v":-0.0024},{"a":0.05,"t":0.5,"v":-0.0038},{"a":0.05,"t":0.6,"v":-0.0054},{"a":0.05,"t":0.7,"v":-0.0068},{"a":0.05,"t":0.8,"v":-0.0084},{"a":0.05,"t":0.9,"v":-0.01},{"a":0.05,"t":1,"v":-0.0113},{"a":0.05,"t":1.1,"v":-0.013},{"a":0.05,"t":1.2,"v":-0.0146},{"a":0.05,"t":1.3,"v":-0.0162},{"a":0.05,"t":1.4,"v":-0.0178},{"a":0.05,"t":1.5,"v":-0.0194},{"a":0.05,"t":1.6,"v":-0.0211},{"a":0.05,"t":1.7,"v":-0.0227},{"a":0.05,"t":1.8,"v":-0.0243},{"a":0.05,"t":1.9,"v":-0.0257},{"a":0.05,"t":2,"v":-0.027},
{"a":0.25,"t":0.1,"v":0},{"a":0.25,"t":0.2,"v":-0.0003},{"a":0.25,"t":0.3,"v":-0.0012},{"a":0.25,"t":0.4,"v":-0.0026},{"a":0.25,"t":0.5,"v":-0.0041},{"a":0.25,"t":0.6,"v":-0.0058},{"a":0.25,"t":0.7,"v":-0.0073},{"a":0.25,"t":0.8,"v":-0.009},{"a":0.25,"t":0.9,"v":-0.0107},{"a":0.25,"t":1,"v":-0.0122},{"a":0.25,"t":1.1,"v":-0.0139},{"a":0.25,"t":1.2,"v":-0.0157},{"a":0.25,"t":1.3,"v":-0.0174},{"a":0.25,"t":1.4,"v":-0.0191},{"a":0.25,"t":1.5,"v":-0.0209},{"a":0.25,"t":1.6,"v":-0.0226},{"a":0.25,"t":1.7,"v":-0.0244},{"a":0.25,"t":1.8,"v":-0.0261},{"a":0.25,"t":1.9,"v":-0.0276},{"a":0.25,"t":2,"v":-0.029},
{"a":0.45,"t":0.1,"v":0},{"a":0.45,"t":0.2,"v":-0.0004},{"a":0.45,"t":0.3,"v":-0.0016},{"a":0.45,"t":0.4,"v":-0.0036},{"a":0.45,"t":0.5,"v":-0.0056},{"a":0.45,"t":0.6,"v":-0.008},{"a":0.45,"t":0.7,"v":-0.01},{"a":0.45,"t":0.8,"v":-0.0124},{"a":0.45,"t":0.9,"v":-0.0148},{"a":0.45,"t":1,"v":-0.0168},{"a":0.45,"t":1.1,"v":-0.0192},{"a":0.45,"t":1.2,"v":-0.0216},{"a":0.45,"t":1.3,"v":-0.024},{"a":0.45,"t":1.4,"v":-0.0264},{"a":0.45,"t":1.5,"v":-0.0288},{"a":0.45,"t":1.6,"v":-0.0312},{"a":0.45,"t":1.7,"v":-0.0336},{"a":0.45,"t":1.8,"v":-0.036},{"a":0.45,"t":1.9,"v":-0.038},{"a":0.45,"t":2,"v":-0.04},
{"a":0.65,"t":0.1,"v":0},{"a":0.65,"t":0.2,"v":-0.0008},{"a":0.65,"t":0.3,"v":-0.003},{"a":0.65,"t":0.4,"v":-0.0068},{"a":0.65,"t":0.5,"v":-0.0106},{"a":0.65,"t":0.6,"v":-0.0151},{"a":0.65,"t":0.7,"v":-0.0189},{"a":0.65,"t":0.8,"v":-0.0234},{"a":0.65,"t":0.9,"v":-0.0279},{"a":0.65,"t":1,"v":-0.0317},{"a":0.65,"t":1.1,"v":-0.0362},{"a":0.65,"t":1.2,"v":-0.0408},{"a":0.65,"t":1.3,"v":-0.0453},{"a":0.65,"t":1.4,"v":-0.0498},{"a":0.65,"t":1.5,"v":-0.0544},{"a":0.65,"t":1.6,"v":-0.0589},{"a":0.65,"t":1.7,"v":-0.0634},{"a":0.65,"t":1.8,"v":-0.068},{"a":0.65,"t":1.9,"v":-0.0717},{"a":0.65,"t":2,"v":-0.0755},
{"a":0.85,"t":0.1,"v":0},{"a":0.85,"t":0.2,"v":-0.0011},{"a":0.85,"t":0.3,"v":-0.004},{"a":0.85,"t":0.4,"v":-0.0091},{"a":0.85,"t":0.5,"v":-0.0148},{"a":0.85,"t":0.6,"v":-0.0209},{"a":0.85,"t":0.7,"v":-0.0262},{"a":0.85,"t":0.8,"v":-0.0323},{"a":0.85,"t":0.9,"v":-0.0382},{"a":0.85,"t":1,"v":-0.0435},{"a":0.85,"t":1.1,"v":-0.0502},{"a":0.85,"t":1.2,"v":-0.057},{"a":0.85,"t":1.3,"v":-0.0638},{"a":0.85,"t":1.4,"v":-0.071},{"a":0.85,"t":1.5,"v":-0.0781},{"a":0.85,"t":1.6,"v":-0.0855},{"a":0.85,"t":1.7,"v":-0.0929},{"a":0.85,"t":1.8,"v":-0.1003},{"a":0.85,"t":1.9,"v":-0.1072},{"a":0.85,"t":2,"v":-0.114},
{"a":1.05,"t":0.1,"v":0},{"a":1.05,"t":0.2,"v":-0.0015},{"a":1.05,"t":0.3,"v":-0.0044},{"a":1.05,"t":0.4,"v":-0.0102},{"a":1.05,"t":0.5,"v":-0.0174},{"a":1.05,"t":0.6,"v":-0.0239},{"a":1.05,"t":0.7,"v":-0.0305},{"a":1.05,"t":0.8,"v":-0.037},{"a":1.05,"t":0.9,"v":-0.0435},{"a":1.05,"t":1,"v":-0.0497},{"a":1.05,"t":1.1,"v":-0.058},{"a":1.05,"t":1.2,"v":-0.0667},{"a":1.05,"t":1.3,"v":-0.0754},{"a":1.05,"t":1.4,"v":-0.0848},{"a":1.05,"t":1.5,"v":-0.0943},{"a":1.05,"t":1.6,"v":-0.1044},{"a":1.05,"t":1.7,"v":-0.1146},{"a":1.05,"t":1.8,"v":-0.1247},{"a":1.05,"t":1.9,"v":-0.1349},{"a":1.05,"t":2,"v":-0.145},
{"a":1.25,"t":0.1,"v":0},{"a":1.25,"t":0.2,"v":-0.0017},{"a":1.25,"t":0.3,"v":-0.0051},{"a":1.25,"t":0.4,"v":-0.0118},{"a":1.25,"t":0.5,"v":-0.0203},{"a":1.25,"t":0.6,"v":-0.0279},{"a":1.25,"t":0.7,"v":-0.0355},{"a":1.25,"t":0.8,"v":-0.0431},{"a":1.25,"t":0.9,"v":-0.0507},{"a":1.25,"t":1,"v":-0.058},{"a":1.25,"t":1.1,"v":-0.0676},{"a":1.25,"t":1.2,"v":-0.0777},{"a":1.25,"t":1.3,"v":-0.0879},{"a":1.25,"t":1.4,"v":-0.0989},{"a":1.25,"t":1.5,"v":-0.1099},{"a":1.25,"t":1.6,"v":-0.1217},{"a":1.25,"t":1.7,"v":-0.1335},{"a":1.25,"t":1.8,"v":-0.1453},{"a":1.25,"t":1.9,"v":-0.1572},{"a":1.25,"t":2,"v":-0.169}
],
"cb": [{"a":0.05},{"a":0.25},{"a":0.45},{"a":0.65},{"a":0.85},{"a":1.05},{"a":1.25}]
},
"hconcat": [
{
"spacing": 28,
"vconcat": [
{
"title": {"text": "Longitudinal", "orient": "left", "offset": 38, "fontSize": 21, "font": "DejaVu Serif", "dx": 67},
"spacing": 4,
"hconcat": [
{
"width": 191, "height": 188, "data": {"name": "A"},
"title": {"text": "σ", "frame": "group", "fontSize": 23, "fontStyle": "italic", "offset": 14},
"encoding": {
"x": {"field": "t", "type": "quantitative", "scale": {"domain": [0, 2.22], "nice": false, "zero": false}, "axis": {"values": [0, 0.5, 1, 1.5, 2], "format": "d", "labelExpr": "datum.value == 0 || datum.value == 2 ? datum.label : ''", "tickSize": 8, "title": null}},
"y": {"field": "v", "type": "quantitative", "scale": {"domain": [-0.12, 2.71], "nice": false, "zero": false}, "axis": {"values": [0,0.2,0.4,0.6,0.8,1,1.2,1.4,1.6,1.8,2,2.2,2.4,2.6], "labelOverlap": false, "labelExpr": "datum.value == 0 ? '0' : datum.value == 1 ? '1' : datum.value == 2 ? '2' : ''", "tickSize": {"condition": {"test": "indexof([0,1,2], datum.value) >= 0", "value": 8}, "value": 4.5}, "title": "×10²", "titleX": 2, "titleY": -9, "titleAngle": 0, "titleAlign": "left", "titleBaseline": "alphabetic", "titleFontSize": 19}},
"color": {"field": "a", "type": "ordinal", "scale": {"domain": [0.05,0.25,0.45,0.65,0.85,1.05,1.25], "range": ["#3c1630","#6b2446","#a33552","#d44b40","#e3834c","#f2aa62","#f9d4a3"]}, "legend": null}
},
"layer": [
{"transform": [{"filter": "datum.a == 0.05 && datum.t == 0.1"}], "mark": {"type": "text", "text": "A.", "font": "DejaVu Serif", "fontWeight": "bold", "fontSize": 21, "align": "left", "baseline": "alphabetic"}, "encoding": {"x": {"datum": 0.16}, "y": {"datum": 2.23}, "color": {"value": "black"}}},
{"mark": {"type": "line", "strokeWidth": 2.8}},
{"mark": {"type": "point", "filled": true, "size": 50, "opacity": 1}}
]
},
{
"width": 191, "height": 188, "data": {"name": "B"},
"title": {"text": "α", "frame": "group", "fontSize": 23, "fontStyle": "italic", "offset": 14},
"encoding": {
"x": {"field": "t", "type": "quantitative", "scale": {"domain": [0, 2.22], "nice": false, "zero": false}, "axis": {"values": [0, 0.5, 1, 1.5, 2], "format": "d", "labelExpr": "datum.value == 0 || datum.value == 2 ? datum.label : ''", "tickSize": 8, "title": null}},
"y": {"field": "v", "type": "quantitative", "scale": {"domain": [-0.12, 2.4], "nice": false, "zero": false}, "axis": {"values": [0,0.2,0.4,0.6,0.8,1,1.2,1.4,1.6,1.8,2,2.2], "labelOverlap": false, "labelExpr": "datum.value == 0 ? '0' : datum.value == 1 ? '1' : datum.value == 2 ? '2' : ''", "tickSize": {"condition": {"test": "indexof([0,1,2], datum.value) >= 0", "value": 8}, "value": 4.5}, "title": "×10³", "titleX": 2, "titleY": -9, "titleAngle": 0, "titleAlign": "left", "titleBaseline": "alphabetic", "titleFontSize": 19, "minExtent": 64.7}},
"color": {"field": "a", "type": "ordinal", "legend": null}
},
"layer": [
{"transform": [{"filter": "datum.a == 0.05 && datum.t == 0.1"}], "mark": {"type": "text", "text": "B.", "font": "DejaVu Serif", "fontWeight": "bold", "fontSize": 21, "align": "left", "baseline": "alphabetic"}, "encoding": {"x": {"datum": 0.16}, "y": {"datum": 1.97}, "color": {"value": "black"}}},
{"mark": {"type": "line", "strokeWidth": 2.8}},
{"mark": {"type": "point", "filled": true, "size": 50, "opacity": 1}}
]
},
{
"width": 191, "height": 188, "data": {"name": "C"},
"title": {"text": "κ̄/μ", "frame": "group", "fontSize": 23, "fontStyle": "italic", "offset": 14},
"encoding": {
"x": {"field": "t", "type": "quantitative", "scale": {"domain": [0, 2.22], "nice": false, "zero": false}, "axis": {"values": [0, 0.5, 1, 1.5, 2], "format": "d", "labelExpr": "datum.value == 0 || datum.value == 2 ? datum.label : ''", "tickSize": 8, "title": null}},
"y": {"field": "v", "type": "quantitative", "scale": {"domain": [-0.26, 5.6], "nice": false, "zero": false}, "axis": {"values": [0,0.5,1,1.5,2,2.5,3,3.5,4,4.5,5,5.5], "format": "d", "labelExpr": "indexof([0,2,4], datum.value) >= 0 ? datum.label : ''", "tickSize": {"condition": {"test": "indexof([0,2,4], datum.value) >= 0", "value": 8}, "value": 4.5}, "title": "×10³", "titleX": 2, "titleY": -9, "titleAngle": 0, "titleAlign": "left", "titleBaseline": "alphabetic", "titleFontSize": 19, "minExtent": 46}},
"color": {"field": "a", "type": "ordinal", "legend": null}
},
"layer": [
{"transform": [{"filter": "datum.a == 0.05 && datum.t == 0.1"}], "mark": {"type": "text", "text": "C.", "font": "DejaVu Serif", "fontWeight": "bold", "fontSize": 21, "align": "left", "baseline": "alphabetic"}, "encoding": {"x": {"datum": 0.16}, "y": {"datum": 4.6}, "color": {"value": "black"}}},
{"mark": {"type": "line", "strokeWidth": 2.8}},
{"mark": {"type": "point", "filled": true, "size": 50, "opacity": 1}}
]
},
{
"width": 191, "height": 188, "data": {"name": "D"},
"title": {"text": "κ/μ", "frame": "group", "fontSize": 23, "fontStyle": "italic", "offset": 14},
"encoding": {
"x": {"field": "t", "type": "quantitative", "scale": {"domain": [0, 2.22], "nice": false, "zero": false}, "axis": {"values": [0, 0.5, 1, 1.5, 2], "format": "d", "labelExpr": "datum.value == 0 || datum.value == 2 ? datum.label : ''", "tickSize": 8, "title": null}},
"y": {"field": "v", "type": "quantitative", "scale": {"domain": [-3.4, 73.8], "nice": false, "zero": false}, "axis": {"values": [0,5,10,15,20,25,30,35,40,45,50,55,60,65,70], "format": "d", "labelExpr": "indexof([0,20,40,60], datum.value) >= 0 ? datum.label : ''", "tickSize": {"condition": {"test": "indexof([0,20,40,60], datum.value) >= 0", "value": 8}, "value": 4.5}, "title": "×10²", "titleColor": "transparent", "titleX": 2, "titleY": -9, "titleAngle": 0, "titleAlign": "left", "titleBaseline": "alphabetic", "titleFontSize": 19, "minExtent": 86.6}},
"color": {"field": "a", "type": "ordinal", "legend": null}
},
"layer": [
{"transform": [{"filter": "datum.a == 0.05 && datum.t == 0.1"}], "mark": {"type": "text", "text": "D.", "font": "DejaVu Serif", "fontWeight": "bold", "fontSize": 21, "align": "left", "baseline": "alphabetic"}, "encoding": {"x": {"datum": 0.16}, "y": {"datum": 60.66}, "color": {"value": "black"}}},
{"mark": {"type": "line", "strokeWidth": 2.8}},
{"mark": {"type": "point", "filled": true, "size": 50, "opacity": 1}}
]
}
]
},
{
"title": {"text": "Transverse", "orient": "left", "offset": 19, "fontSize": 21, "font": "DejaVu Serif", "dx": 125},
"spacing": 4,
"hconcat": [
{
"width": 191, "height": 188, "data": {"name": "E"},
"encoding": {
"x": {"field": "t", "type": "quantitative", "scale": {"domain": [0, 2.22], "nice": false, "zero": false}, "axis": {"values": [0, 0.5, 1, 1.5, 2], "format": "d", "labelExpr": "datum.value == 0 || datum.value == 2 ? datum.label : ''", "tickSize": 8, "title": "T/G", "titleFontStyle": "italic", "titleFontSize": 21, "titlePadding": 16}},
"y": {"field": "v", "type": "quantitative", "scale": {"domain": [-0.4, 9.34], "nice": false, "zero": false}, "axis": {"values": [0,0.5,1,1.5,2,2.5,3,3.5,4,4.5,5,5.5,6,6.5,7,7.5,8,8.5,9], "format": ".1f", "labelExpr": "indexof([0,2.5,5,7.5], datum.value) >= 0 ? datum.label : ''", "tickSize": {"condition": {"test": "indexof([0,2.5,5,7.5], datum.value) >= 0", "value": 8}, "value": 4.5}, "title": "×10²", "titleX": 2, "titleY": -9, "titleAngle": 0, "titleAlign": "left", "titleBaseline": "alphabetic", "titleFontSize": 19}},
"color": {"field": "a", "type": "ordinal", "legend": null}
},
"layer": [
{"transform": [{"filter": "datum.a == 0.05 && datum.t == 0.1"}], "mark": {"type": "text", "text": "E.", "font": "DejaVu Serif", "fontWeight": "bold", "fontSize": 21, "align": "left", "baseline": "alphabetic"}, "encoding": {"x": {"datum": 0.16}, "y": {"datum": 7.68}, "color": {"value": "black"}}},
{"mark": {"type": "line", "strokeWidth": 2.8}},
{"mark": {"type": "point", "filled": true, "size": 50, "opacity": 1}}
]
},
{
"width": 191, "height": 188, "data": {"name": "F"},
"encoding": {
"x": {"field": "t", "type": "quantitative", "scale": {"domain": [0, 2.22], "nice": false, "zero": false}, "axis": {"values": [0, 0.5, 1, 1.5, 2], "format": "d", "labelExpr": "datum.value == 0 || datum.value == 2 ? datum.label : ''", "tickSize": 8, "title": "T/G", "titleFontStyle": "italic", "titleFontSize": 21, "titlePadding": 16}},
"y": {"field": "v", "type": "quantitative", "scale": {"domain": [-0.05, 1.09], "nice": false, "zero": false}, "axis": {"values": [0,0.1,0.2,0.3,0.4,0.5,0.6,0.7,0.8,0.9,1], "format": ".1f", "labelExpr": "indexof([0,0.5,1], datum.value) >= 0 ? datum.label : ''", "tickSize": {"condition": {"test": "indexof([0,0.5,1], datum.value) >= 0", "value": 8}, "value": 4.5}, "title": "×10⁴", "titleX": 2, "titleY": -9, "titleAngle": 0, "titleAlign": "left", "titleBaseline": "alphabetic", "titleFontSize": 19, "minExtent": 64.7}},
"color": {"field": "a", "type": "ordinal", "legend": null}
},
"layer": [
{"transform": [{"filter": "datum.a == 0.05 && datum.t == 0.1"}], "mark": {"type": "text", "text": "F.", "font": "DejaVu Serif", "fontWeight": "bold", "fontSize": 21, "align": "left", "baseline": "alphabetic"}, "encoding": {"x": {"datum": 0.16}, "y": {"datum": 0.896}, "color": {"value": "black"}}},
{"mark": {"type": "line", "strokeWidth": 2.8}},
{"mark": {"type": "point", "filled": true, "size": 50, "opacity": 1}}
]
},
{
"width": 191, "height": 188, "data": {"name": "G"},
"encoding": {
"x": {"field": "t", "type": "quantitative", "scale": {"domain": [0, 2.22], "nice": false, "zero": false}, "axis": {"values": [0, 0.5, 1, 1.5, 2], "format": "d", "labelExpr": "datum.value == 0 || datum.value == 2 ? datum.label : ''", "tickSize": 8, "title": "T/G", "titleFontStyle": "italic", "titleFontSize": 21, "titlePadding": 16}},
"y": {"field": "v", "type": "quantitative", "scale": {"domain": [-0.12, 2.55], "nice": false, "zero": false}, "axis": {"values": [0,0.2,0.4,0.6,0.8,1,1.2,1.4,1.6,1.8,2,2.2,2.4], "labelOverlap": false, "labelExpr": "datum.value == 0 ? '0' : datum.value == 1 ? '1' : datum.value == 2 ? '2' : ''", "tickSize": {"condition": {"test": "indexof([0,1,2], datum.value) >= 0", "value": 8}, "value": 4.5}, "title": "×10⁴", "titleX": 2, "titleY": -9, "titleAngle": 0, "titleAlign": "left", "titleBaseline": "alphabetic", "titleFontSize": 19, "minExtent": 46}},
"color": {"field": "a", "type": "ordinal", "legend": null}
},
"layer": [
{"transform": [{"filter": "datum.a == 0.05 && datum.t == 0.1"}], "mark": {"type": "text", "text": "G.", "font": "DejaVu Serif", "fontWeight": "bold", "fontSize": 21, "align": "left", "baseline": "alphabetic"}, "encoding": {"x": {"datum": 0.16}, "y": {"datum": 2.096}, "color": {"value": "black"}}},
{"mark": {"type": "line", "strokeWidth": 2.8}},
{"mark": {"type": "point", "filled": true, "size": 50, "opacity": 1}}
]
},
{
"width": 191, "height": 188, "data": {"name": "H"},
"encoding": {
"x": {"field": "t", "type": "quantitative", "scale": {"domain": [0, 2.22], "nice": false, "zero": false}, "axis": {"values": [0, 0.5, 1, 1.5, 2], "format": "d", "labelExpr": "datum.value == 0 || datum.value == 2 ? datum.label : ''", "tickSize": 8, "title": "T/G", "titleFontStyle": "italic", "titleFontSize": 21, "titlePadding": 16}},
"y": {"field": "v", "type": "quantitative", "scale": {"domain": [-0.1765, 0.0082], "nice": false, "zero": false}, "axis": {"values": [0,-0.01,-0.02,-0.03,-0.04,-0.05,-0.06,-0.07,-0.08,-0.09,-0.1,-0.11,-0.12,-0.13,-0.14,-0.15,-0.16,-0.17], "format": ".2f", "labelExpr": "indexof([0,-0.05,-0.1,-0.15], datum.value) >= 0 ? datum.label : ''", "tickSize": {"condition": {"test": "indexof([0,-0.05,-0.1,-0.15], datum.value) >= 0", "value": 8}, "value": 4.5}, "title": null, "minExtent": 86.6}},
"color": {"field": "a", "type": "ordinal", "legend": null}
},
"layer": [
{"transform": [{"filter": "datum.a == 0.05 && datum.t == 0.1"}], "mark": {"type": "text", "text": "H.", "font": "DejaVu Serif", "fontWeight": "bold", "fontSize": 21, "align": "left", "baseline": "alphabetic"}, "encoding": {"x": {"datum": 0.16}, "y": {"datum": -0.0232}, "color": {"value": "black"}}},
{"mark": {"type": "line", "strokeWidth": 2.8}},
{"mark": {"type": "point", "filled": true, "size": 50, "opacity": 1}}
]
}
]
}
]
},
{
"width": 38, "height": 464, "data": {"name": "cb"},
"mark": {"type": "rect"},
"encoding": {
"x": {"datum": "c", "type": "nominal", "scale": {"paddingInner": 0, "paddingOuter": 0}, "axis": null},
"y": {"field": "a", "type": "ordinal", "sort": "descending", "scale": {"paddingInner": 0, "paddingOuter": 0}, "axis": {"orient": "right", "labelExpr": "format(datum.value, '.2f')", "tickSize": 6, "labelPadding": 4, "title": "A", "titleFontStyle": "italic", "titleFontSize": 21, "titleAngle": 270, "titleX": 76, "titleY": 232, "titleAlign": "center", "titleBaseline": "middle"}},
"color": {"field": "a", "type": "ordinal", "legend": null}
}
}
],
"spacing": 13,
"config": {
"font": "DejaVu Serif",
"view": {"stroke": "black", "strokeWidth": 2},
"axis": {"domain": false, "grid": false, "labelFont": "DejaVu Serif", "labelFontSize": 20, "labelColor": "black", "tickColor": "black", "tickWidth": 1.5, "labelPadding": 3, "labelFlush": false, "labelOverlap": false, "labelBound": false, "titleFont": "DejaVu Serif", "titleFontWeight": "normal", "titleColor": "black"},
"title": {"font": "DejaVu Serif", "color": "black", "fontWeight": "normal"}
}
}
